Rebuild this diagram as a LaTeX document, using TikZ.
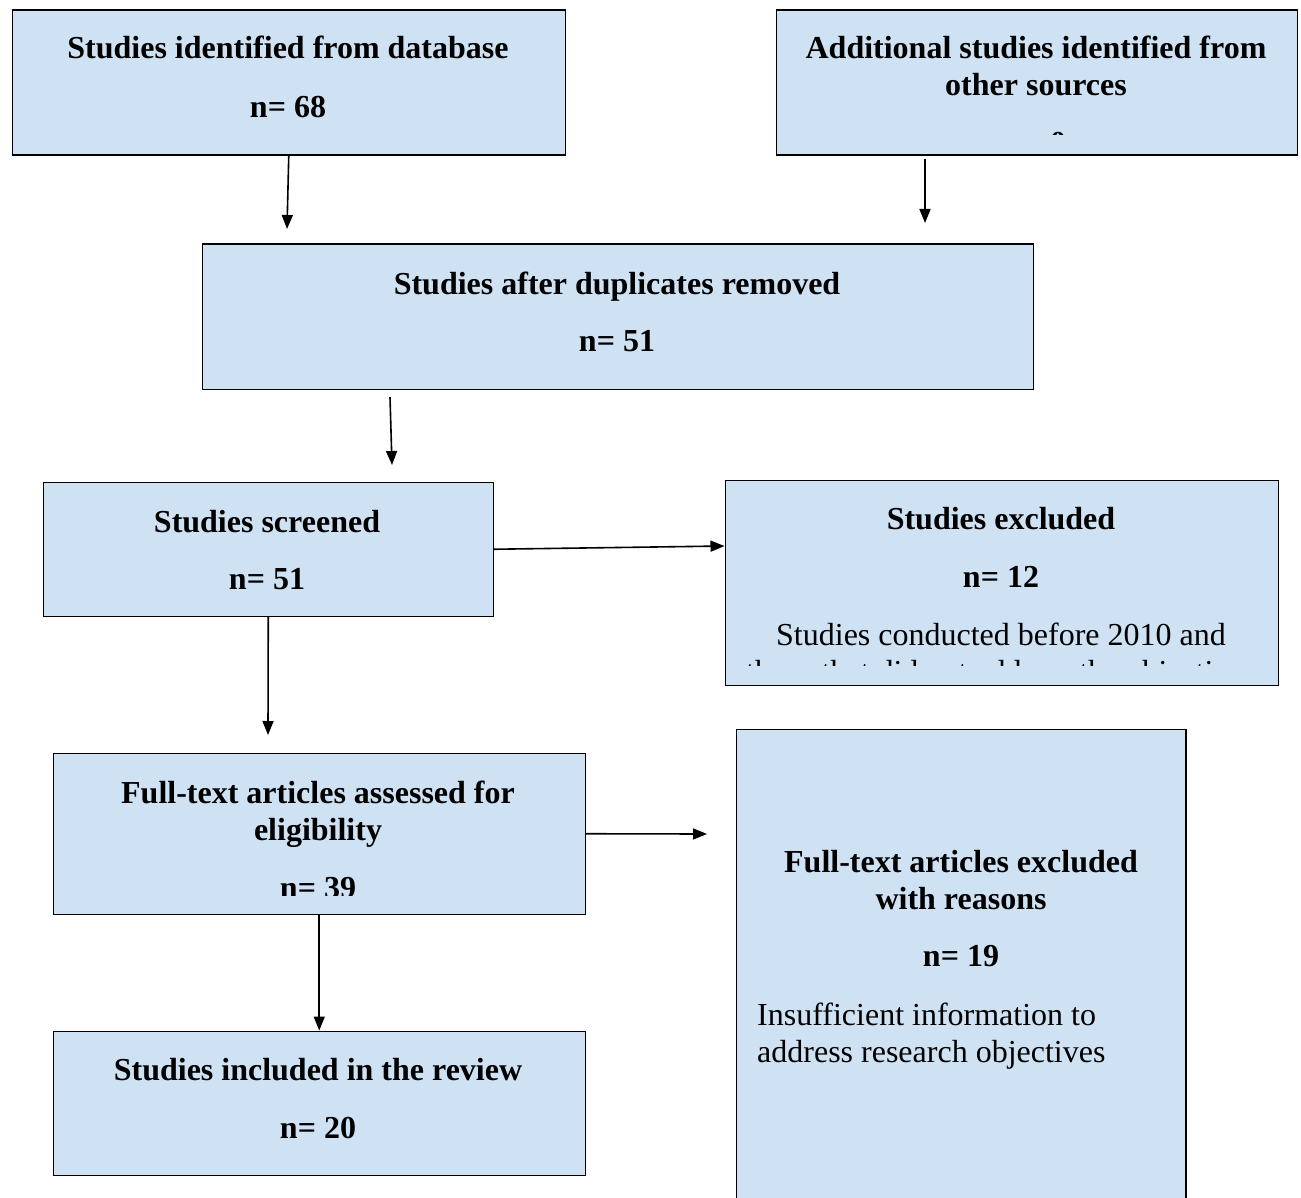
\documentclass[tikz,border=0pt]{standalone}
\usepackage{fontspec}
\setmainfont{Liberation Serif}
\usetikzlibrary{arrows.meta}
\definecolor{boxblue}{RGB}{207,226,243}
\tikzset{
  boxnode/.style={draw=black, line width=1.5pt, fill=boxblue, anchor=north west, inner sep=0pt},
  boxfill/.style={draw=none, fill=boxblue, anchor=north west, inner sep=0pt},
  boxline/.style={draw=black, line width=1.5pt},
  bt/.style={font=\fontsize{32}{37}\selectfont\bfseries, anchor=base, inner sep=0pt},
  rt/.style={font=\fontsize{32}{37}\selectfont, anchor=base, inner sep=0pt},
  rtl/.style={font=\fontsize{32}{37}\selectfont, anchor=base west, inner sep=0pt},
  arr/.style={line width=1.6pt, -{Triangle[length=14pt,width=11pt]}}
}
\begin{document}
\begin{tikzpicture}[x=1pt,y=-1pt]
\useasboundingbox (0,0) rectangle (1301,1198);
% boxes
\node[boxnode, minimum width=553, minimum height=145] (b1) at (11.5,9.5) {};
\node[boxnode, minimum width=521, minimum height=145] (b2) at (775.5,9.5) {};
\node[boxnode, minimum width=831, minimum height=145] (b3) at (201.5,243.5) {};
\node[boxnode, minimum width=450, minimum height=134] (b4) at (42.5,481.5) {};
\node[boxnode, minimum width=553, minimum height=205] (b5) at (724.5,479.5) {};
\node[boxnode, minimum width=532, minimum height=161] (b6) at (52.5,752.5) {};
\node[boxfill, minimum width=449, minimum height=480] (b7) at (736.5,729.5) {};
\draw[boxline] (b7.south west) -- (b7.north west) -- (b7.north east) -- (b7.south east);
\node[boxnode, minimum width=532, minimum height=144] (b8) at (52.5,1030.5) {};

% texts
\node[bt] (t1a) at (288,59) {Studies identified from database};
\node[bt] (t1b) at (288,118) {n= 68};

\begin{scope}
\clip (776,10) rectangle (1296,135);
\node[bt] (t2a) at (1036,59) {Additional studies identified from};
\node[bt] (t2b) at (1036,96) {other sources};
\node[bt] (t2c) at (1036,154) {n= 0};
\end{scope}

\node[bt] (t3a) at (617,295) {Studies after duplicates removed};
\node[bt] (t3b) at (617,352) {n= 51};

\node[bt] (t4a) at (267,532) {Studies screened};
\node[bt] (t4b) at (267,589) {n= 51};

\begin{scope}
\clip (725,480) rectangle (1277,665);
\node[bt] (t5a) at (1001,529) {Studies excluded};
\node[bt] (t5b) at (1001,587) {n= 12};
\node[rt] (t5c) at (1001,645) {Studies conducted before 2010 and};
\node[rt] (t5d) at (1001,682) {those that did not address the objectives};
\end{scope}

\begin{scope}
\clip (53,753) rectangle (584,895);
\node[bt] (t6a) at (318,803) {Full-text articles assessed for};
\node[bt] (t6b) at (318,840) {eligibility};
\node[bt] (t6c) at (318,898) {n= 39};
\end{scope}

\node[bt] (t7a) at (961,872) {Full-text articles excluded};
\node[bt] (t7b) at (961,909) {with reasons};
\node[bt] (t7c) at (961,966) {n= 19};
\node[rtl] (t7d) at (757,1025) {Insufficient information to};
\node[rtl] (t7e) at (757,1062) {address research objectives};

\node[bt] (t8a) at (318,1080) {Studies included in the review};
\node[bt] (t8b) at (318,1138) {n= 20};

% arrows
\coordinate (e1) at (287,229);
\coordinate (e2) at (925,223);
\coordinate (s3) at (390,397);
\coordinate (e3) at (392,465);
\coordinate (e5) at (268,735);
\coordinate (e6) at (707,834);
\draw[arr] (b1.south) -- (e1);
\draw[arr] ([yshift=-3pt]b2.south -| e2) -- (e2);
\draw[arr] (s3) -- (e3);
\draw[arr] (b4.east) -- (b5.west |- 0,546);
\draw[arr] (b4.south) -- (e5);
\draw[arr] (b6.east) -- (e6);
\draw[arr] (b6.south) -- (b8.north);
\end{tikzpicture}
\end{document}
